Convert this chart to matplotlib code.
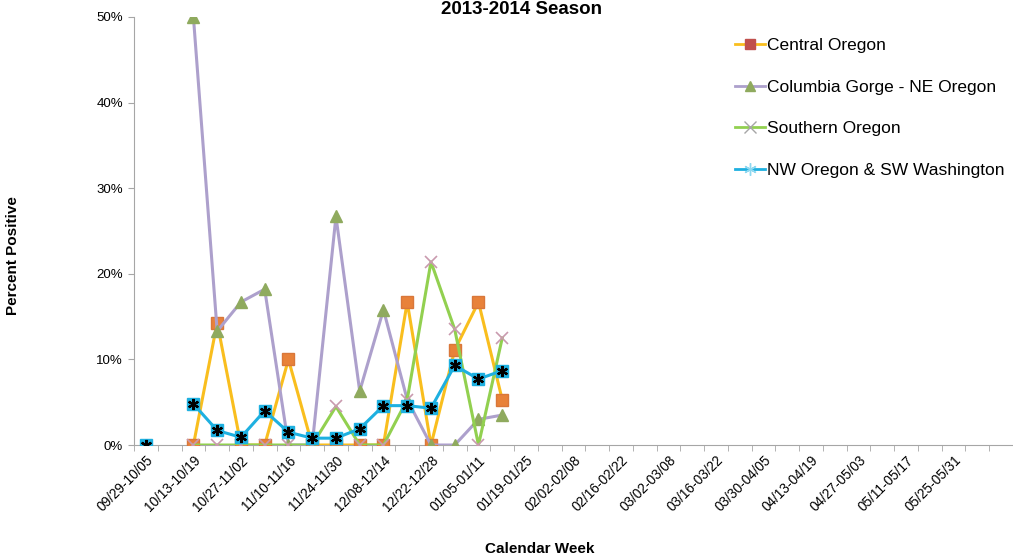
import numpy as np
import matplotlib.pyplot as plt
from matplotlib.lines import Line2D

plt.rcParams['font.family'] = ['Liberation Sans', 'DejaVu Sans']

nan = np.nan

# every other week is labelled on the category axis
tick_labels = ["09/29-10/05", "10/13-10/19", "10/27-11/02", "11/10-11/16",
               "11/24-11/30", "12/08-12/14", "12/22-12/28", "01/05-01/11",
               "01/19-01/25", "02/02-02/08", "02/16-02/22", "03/02-03/08",
               "03/16-03/22", "03/30-04/05", "04/13-04/19", "04/27-05/03",
               "05/11-05/17", "05/25-05/31"]
n_weeks = 37

# percent positive by week (week 0 = 09/29-10/05)
central = [nan, nan, 0, 14.3, 0, 0, 10.0, 0, 0, 0, 0, 16.7, 0, 11.1, 16.7, 5.3]
columbia = [nan, nan, 50.0, 13.3, 16.7, 18.2, 0, 0, 26.7, 6.3, 15.8, 5.3, 0, 0, 3.0, 3.5]
southern = [nan, nan, 0, 0, 0, 0, 0, 0, 4.5, 0, 0, 5.3, 21.4, 13.5, 0, 12.5]
nw = [0, nan, 4.8, 1.7, 0.9, 4.0, 1.5, 0.8, 0.8, 1.9, 4.6, 4.6, 4.3, 9.3, 7.7, 8.7]

x = np.arange(len(nw))

fig = plt.figure(figsize=(10.13, 5.59), dpi=100)
ax = fig.add_axes([0.1323, 0.2039, 0.8677, 0.7657])

ax.plot(x, central, color='#F9BE1E', lw=2.2, marker='s', ms=8.5,
        mfc='#E8823A', mec='#D9773A', zorder=3)
ax.plot(x, columbia, color='#ADA0CC', lw=2.2, marker='^', ms=8.5,
        mfc='#8FAA5E', mec='#8FAA5E', zorder=3)
ax.plot(x, southern, color='#92D050', lw=2.2, marker='x', ms=9,
        mec='#C99AAE', mew=1.2, zorder=3)
ax.plot(x, nw, color='#1EB0E0', lw=2.2, marker='s', ms=8,
        mfc='#1EB0E0', mec='#1EB0E0', zorder=4)
ax.plot(x, nw, ls='none', marker=(6, 2, 0), ms=8, mec='black', mew=1.6, zorder=5)

ax.set_ylim(0, 50)
ax.set_xlim(-0.5, -0.5 + 879 / 24)
ax.set_yticks(range(0, 51, 10))
ax.set_yticklabels([f"{v}%" for v in range(0, 51, 10)])

ax.set_xticks(range(0, 2 * len(tick_labels), 2))
ax.set_xticklabels(tick_labels, rotation=45, ha='right', rotation_mode='anchor')
ax.set_xticks(np.arange(-0.5, n_weeks, 1), minor=True)
ax.tick_params(axis='x', which='major', length=0, pad=6, labelsize=9.8)
ax.tick_params(axis='x', which='minor', length=4, color='#A6A6A6')
ax.tick_params(axis='y', length=4, color='#A6A6A6', labelsize=9.5, pad=4)

for s in ['top', 'right']:
    ax.spines[s].set_visible(False)
ax.spines['left'].set_color('#A6A6A6')
ax.spines['bottom'].set_color('#A6A6A6')

fig.text(0.515, 0.999, "2013-2014 Season", ha='center', va='top',
         fontsize=13.5, fontweight='bold')
fig.text(0.013, 0.542, "Percent Positive", rotation=90, ha='center', va='center',
         fontsize=11, fontweight='bold')
fig.text(0.533, 0.017, "Calendar Week", ha='center', va='center',
         fontsize=11, fontweight='bold')

handles = [
    Line2D([], [], color='#F9BE1E', lw=2, marker='s', ms=7, mfc='#C0504D', mec='#C0504D'),
    Line2D([], [], color='#ADA0CC', lw=2, marker='^', ms=7, mfc='#8FAA5E', mec='#8FAA5E'),
    Line2D([], [], color='#92D050', lw=2, marker='x', ms=8, mec='#A6A6A6', mew=1),
    Line2D([], [], color='#1EB0E0', lw=2, marker=(6, 2, 0), ms=9, mec='#8ED8F0', mew=1),
]
labels = ["Central Oregon", "Columbia Gorge - NE Oregon", "Southern Oregon",
          "NW Oregon & SW Washington"]
fig.legend(handles, labels, loc='upper left', bbox_to_anchor=(0.7187, 0.944),
           frameon=False, fontsize=12.5, labelspacing=1.52, handlelength=1.75,
           handletextpad=0.1, borderaxespad=0)

fig.savefig('out.png', dpi=100)
